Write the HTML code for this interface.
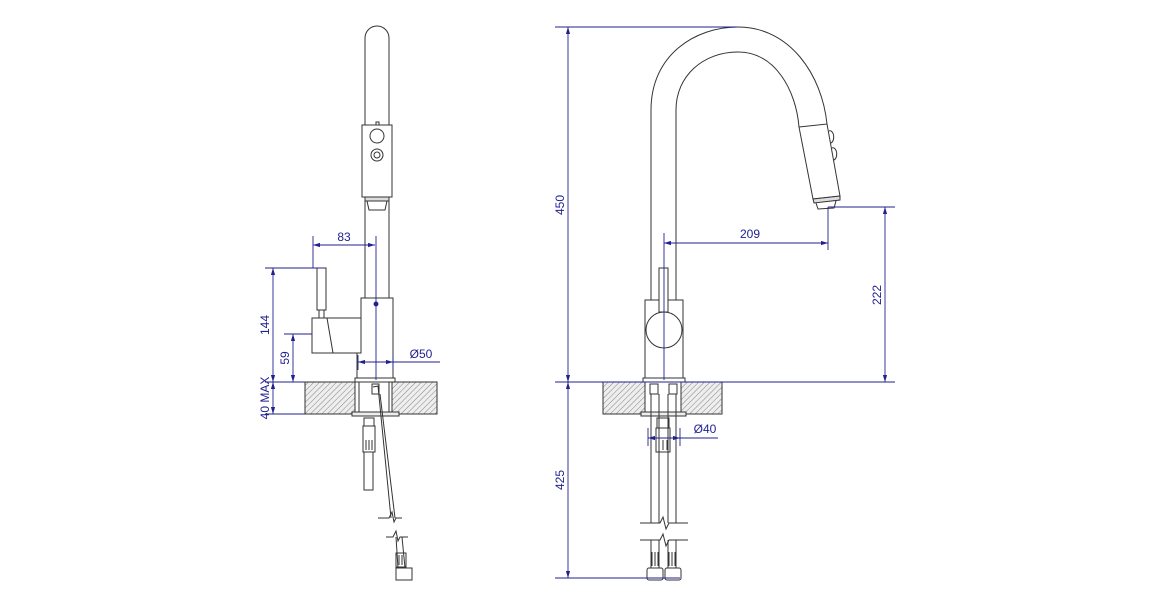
<!DOCTYPE html>
<html><head><meta charset="utf-8"><style>
html,body{margin:0;padding:0;background:#fff}
svg{display:block}
text{font-family:"Liberation Sans",sans-serif;font-size:12px;fill:#22228f}
</style></head><body>
<svg width="1160" height="600" viewBox="0 0 1160 600">
<defs>
<pattern id="h" width="4" height="4" patternUnits="userSpaceOnUse" patternTransform="rotate(45)">
<rect width="4" height="4" fill="#eee"/><line x1="0" y1="0" x2="0" y2="4" stroke="#777" stroke-width="0.9"/>
</pattern>
<marker id="a" viewBox="0 0 10 6" refX="10" refY="3" markerWidth="8" markerHeight="5" orient="auto-start-reverse"><path d="M0,0 L10,3 L0,6 z" fill="#22228f"/></marker>
</defs>
<g fill="none" stroke="#333" stroke-width="1">
<path d="M365,298 L365,38 A12,12 0 0 1 389,38 L389,298"/>
<rect x="362" y="125" width="30" height="72" fill="#fff"/>
<circle cx="377" cy="136" r="7"/>
<circle cx="377" cy="155" r="6"/><circle cx="377" cy="155" r="3"/>
<path d="M376,125 l0,-3 l3,0 l0,3"/>
<rect x="365" y="197" width="24" height="4" fill="#ddd"/>
<path d="M367,201 L369,210 L385,210 L387,201"/>
<path d="M361,298 L393,298 L393,378 L357,378 L357,353 L361,353 Z"/>
<path d="M361,318 L312,318 L312,353 L357,353"/>
<path d="M327,318 L333,353"/>
<rect x="317" y="268" width="9" height="42" fill="#fff"/>
<rect x="319" y="310" width="5" height="8"/>
<rect x="355" y="378" width="40" height="4"/>
<rect x="305" y="382" width="50" height="32" fill="url(#h)"/>
<rect x="392" y="382" width="45" height="32" fill="url(#h)"/>
<path d="M359,382 L359,412 M389,382 L389,412"/>
<rect x="352" y="412" width="47" height="4" fill="#eee"/>
<rect x="364" y="418" width="10" height="8"/><rect x="363" y="426" width="12" height="26"/>
<path d="M366,440 v10 M369,440 v10 M372,440 v10"/>
<rect x="364" y="452" width="9" height="38"/>
<path d="M373,387 L378,386 L391,518 M380,394 L395,518"/>
<rect x="372" y="384" width="7" height="10"/>
<path d="M378,518 L389,518 L392,512 L394,522 L396,518 L402,518"/>
<path d="M386,537 L393,537 L396,531 L398,541 L400,537 L408,537"/>
<path d="M396,537 L398,568 M402,537 L405,568"/>
<rect x="396" y="553" width="10" height="14"/>
<path d="M399,555 v10 M402,555 v10"/>
<rect x="396" y="568" width="16" height="12"/>
<path d="M651,300 L651,110 C651,55 695,27 738,27 C790,27 822,75 827,124"/>
<path d="M676,300 L676,110 C676,76 703,52 738,52 C775,52 796,90 799,127"/>
<path d="M799,127 L827,124 L840,196 L813,199 Z" fill="#fff"/>
<path d="M829,131 a3,5 0 0 1 2,12 M832,148 a3,5 0 0 1 2,12"/>
<path d="M813,199 L840,196 L840,200 L814,203 Z" fill="#ddd"/>
<path d="M816,203 L818,209 L834,208 L836,201"/>
<rect x="645" y="300" width="38" height="78" fill="#fff"/>
<circle cx="664" cy="330" r="18" fill="#fff"/>
<rect x="659" y="268" width="9" height="44" fill="#fff"/>
<rect x="643" y="378" width="42" height="4"/>
<rect x="603" y="382" width="42" height="32" fill="url(#h)"/>
<rect x="681" y="382" width="41" height="32" fill="url(#h)"/>
<rect x="641" y="412" width="45" height="4" fill="#eee"/>
<rect x="650" y="384" width="8" height="10"/><rect x="669" y="384" width="8" height="10"/>
<path d="M651,394 V523 M659,394 V523 M668,394 V523 M676,394 V523"/>
<rect x="657" y="418" width="12" height="10"/><rect x="656" y="428" width="14" height="24"/>
<path d="M659,440 v10 M663,440 v10 M667,440 v10"/>
<path d="M640,523 L660,523 L663,517 L666,529 L669,523 L688,523"/>
<path d="M640,540 L660,540 L663,534 L666,546 L669,540 L688,540"/>
<path d="M651,540 V568 M659,540 V568 M668,540 V568 M676,540 V568"/>
<path d="M652,552 v14 M655,552 v14 M658,552 v14 M669,552 v14 M672,552 v14 M675,552 v14"/>
<rect x="647" y="568" width="16" height="12" rx="2"/><rect x="665" y="568" width="16" height="12" rx="2"/>
</g>
<g fill="none" stroke="#22228f" stroke-width="0.9">
<path d="M313,236 V268 M376,236 V380 M265,268 H325 M284,334 H312 M265,382 H305 M265,414 H305 M358,355 V370 M393,355 V370 M393,362 H440"/>
<line x1="313" y1="245" x2="375" y2="245" marker-start="url(#a)" marker-end="url(#a)"/>
<line x1="273" y1="268" x2="273" y2="382" marker-start="url(#a)" marker-end="url(#a)"/>
<line x1="293" y1="334" x2="293" y2="382" marker-start="url(#a)" marker-end="url(#a)"/>
<line x1="273" y1="382" x2="273" y2="414" marker-start="url(#a)" marker-end="url(#a)"/>
<line x1="358" y1="362" x2="393" y2="362" marker-start="url(#a)" marker-end="url(#a)"/>
<circle cx="376" cy="304" r="2" fill="#22228f"/>
<path d="M555,27 H738 M555,382 H895 M555,578 H680 M828,207 H895 M664,233 V380 M828,207 V250 M648,428 V446 M680,428 V446 M680,438 H718"/>
<line x1="568" y1="27" x2="568" y2="382" marker-start="url(#a)" marker-end="url(#a)"/>
<line x1="568" y1="382" x2="568" y2="578" marker-start="url(#a)" marker-end="url(#a)"/>
<line x1="885" y1="207" x2="885" y2="382" marker-start="url(#a)" marker-end="url(#a)"/>
<line x1="664" y1="243" x2="828" y2="243" marker-start="url(#a)" marker-end="url(#a)"/>
<line x1="648" y1="438" x2="680" y2="438" marker-start="url(#a)" marker-end="url(#a)"/>
</g>
<text x="344" y="241" text-anchor="middle">83</text>
<text transform="translate(269,325) rotate(-90)" text-anchor="middle">144</text>
<text transform="translate(289,358) rotate(-90)" text-anchor="middle">59</text>
<text transform="translate(269,398) rotate(-90)" text-anchor="middle">40 MAX</text>
<text x="421" y="358" text-anchor="middle">Ø50</text>
<text transform="translate(564,205) rotate(-90)" text-anchor="middle">450</text>
<text transform="translate(564,480) rotate(-90)" text-anchor="middle">425</text>
<text transform="translate(881,295) rotate(-90)" text-anchor="middle">222</text>
<text x="750" y="238" text-anchor="middle">209</text>
<text x="705" y="433" text-anchor="middle">Ø40</text>
</svg>
</body></html>
